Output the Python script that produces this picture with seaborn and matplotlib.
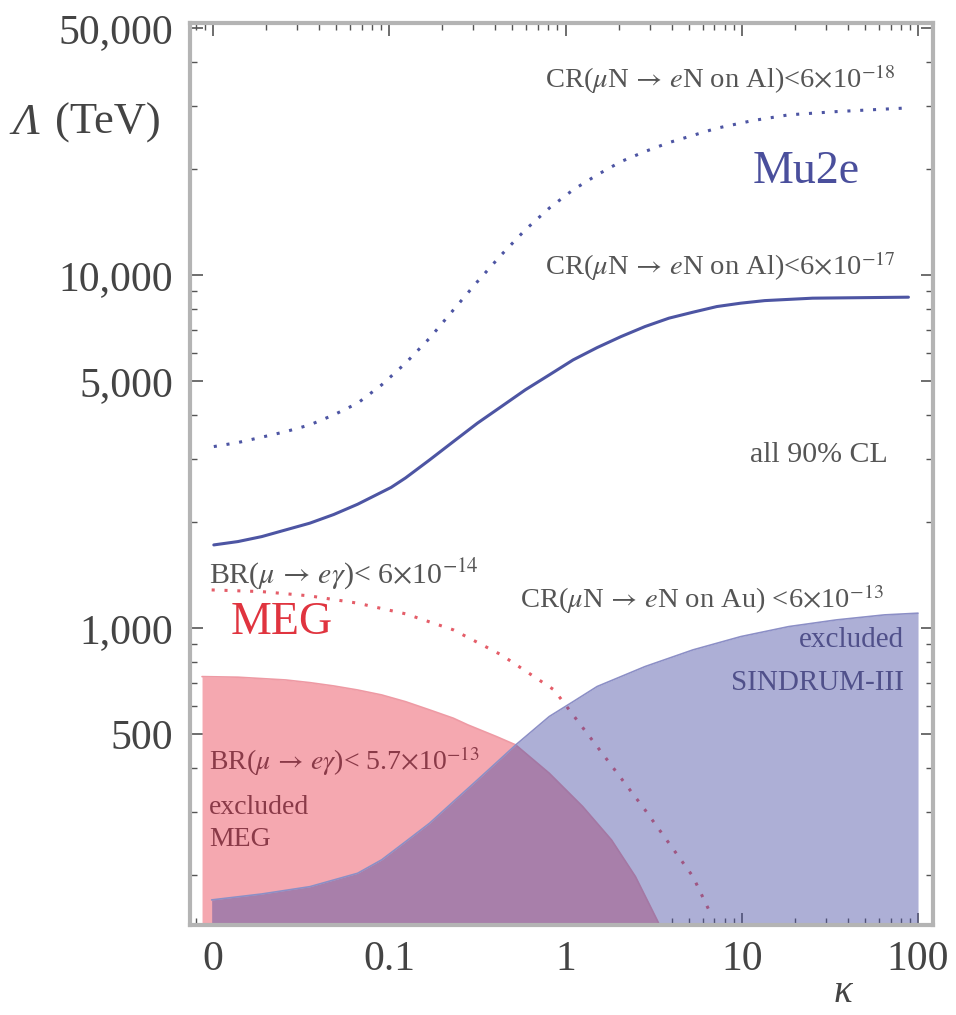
import numpy as np
import matplotlib
matplotlib.use("Agg")
import matplotlib.pyplot as plt
import seaborn as sns
from matplotlib.ticker import FixedLocator, FixedFormatter, NullFormatter

# ---------------- data ----------------
# Mu2e, CR(mu N -> e N on Al) < 6e-17 (solid)
kappa_mu2e_17 = [0.0101, 0.01384, 0.0189, 0.0354, 0.04839, 0.0661, 0.1024, 0.1237,
                 0.1693, 0.2312, 0.3164, 0.4322, 0.5907, 0.8083, 1.104, 1.511,
                 2.065, 2.825, 3.862, 5.283, 7.218, 9.876, 13.50, 25.23, 88.2]
lam_mu2e_17 = [1718, 1756, 1814, 1980, 2095, 2240, 2500, 2660,
               2991, 3372, 3802, 4236, 4723, 5207, 5743, 6223,
               6687, 7139, 7540, 7839, 8133, 8315, 8455, 8590, 8646]

# Mu2e, CR(mu N -> e N on Al) < 6e-18 (dotted)
kappa_mu2e_18 = [0.0101, 0.01384, 0.0189, 0.02588, 0.0354, 0.04839, 0.0661, 0.09052,
                 0.1237, 0.1693, 0.2312, 0.3164, 0.4322, 0.5907, 0.8083, 1.104,
                 1.511, 2.065, 2.825, 3.862, 7.218, 11.54, 18.47, 34.49, 82.8]
lam_mu2e_18 = [3263, 3350, 3469, 3598, 3759, 4012, 4330, 4880,
               5622, 6617, 7960, 9572, 11396, 13413, 15453, 17415,
               19200, 20940, 22360, 23700, 26030, 27360, 28400, 29010, 29670]

# MEG upgrade, BR(mu -> e gamma) < 6e-14 (dotted red)
kappa_meg_14 = [0.00982, 0.0189, 0.0354, 0.0661, 0.1237, 0.2312, 0.4322, 0.8606,
                1.511, 2.825, 5.283, 6.782]
lam_meg_14 = [1281, 1267, 1232, 1175, 1096, 987, 838.6, 667.3,
              461.1, 305.1, 197.5, 152.1]

# excluded by MEG, BR(mu -> e gamma) < 5.7e-13 (pink region)
kappa_meg_13 = [0.00866, 0.01384, 0.02588, 0.0354, 0.04839, 0.0661, 0.09052, 0.1237,
                0.1693, 0.2312, 0.2791, 0.4061, 0.5218, 0.8083, 1.252, 1.824,
                2.492, 3.305, 3.5]
lam_meg_13 = [727.8, 725, 712, 699.8, 684.8, 667, 645.8, 618,
              585.8, 554.7, 531.2, 492.1, 466.1, 387.6, 311.7, 250.7,
              197.5, 148.9, 140]

# excluded by SINDRUM-II, CR(mu N -> e N on Au) < 6e-13 (blue region)
kappa_sindrum = [0.00982, 0.0189, 0.0354, 0.0661, 0.09052, 0.1237, 0.1693, 0.2312,
                 0.3164, 0.4322, 0.5218, 0.8083, 1.104, 1.511, 2.825, 5.283,
                 9.876, 18.47, 34.49, 64.48, 100]
lam_sindrum = [169.6, 176.3, 184.9, 201.8, 220.3, 248, 279.7, 322.1,
               371, 427.6, 466.1, 560.9, 618, 682.2, 777.0, 866.3,
               944.9, 1008.5, 1053.6, 1088.5, 1100.6]

x_tick_values = [0.01, 0.1, 1, 10, 100]
x_tick_labels = ["0", "0.1", "1", "10", "100"]
y_tick_values = [500, 1000, 5000, 10000, 50000]
y_tick_labels = ["500", "1,000", "5,000", "10,000", "50,000"]

# ---------------- style ----------------
sns.set_style("ticks")
plt.rcParams["font.family"] = ["Liberation Serif", "DejaVu Serif"]
plt.rcParams["mathtext.fontset"] = "stix"

W, H = 956, 1015
fig = plt.figure(figsize=(W / 100, H / 100), dpi=100)
L, R, T, B = 190, 933, 23, 925
ax = fig.add_axes([L / W, 1 - B / H, (R - L) / W, (B - T) / H])
ax.set_xscale("log")
ax.set_yscale("log")
ax.set_xlim(0.0074, 121.6)
ax.set_ylim(144, 51700)

blue_line = "#4d55a3"
red_line = "#e0404e"
pink_fill = "#f5a8b0"
blue_fill = "#4b4fa4"
text_grey = "#555555"

ybase = 100
# pink region (MEG excluded)
ax.fill_between(kappa_meg_13, ybase, lam_meg_13, color=pink_fill, lw=0, zorder=1)
ax.plot(kappa_meg_13, lam_meg_13, color="#ee9aa4", lw=1.2, zorder=1.1)
# dotted MEG upgrade line (below the blue region)
sns.lineplot(x=kappa_meg_14, y=lam_meg_14, ax=ax, sort=False, color=red_line,
             lw=2.2, linestyle=(0, (1, 3.2)), alpha=0.85, zorder=1.5)
# blue region (SINDRUM-II excluded)
ax.fill_between(kappa_sindrum, ybase, lam_sindrum, color=blue_fill, alpha=0.45,
                lw=0, zorder=2)
ax.plot(kappa_sindrum, lam_sindrum, color="#8c8fc6", lw=1.2, zorder=2.1)
# Mu2e curves
sns.lineplot(x=kappa_mu2e_17, y=lam_mu2e_17, ax=ax, sort=False, color=blue_line,
             lw=2.2, zorder=3)
sns.lineplot(x=kappa_mu2e_18, y=lam_mu2e_18, ax=ax, sort=False, color=blue_line,
             lw=2.2, linestyle=(0, (1, 3.2)), zorder=3)

# ---------------- axes styling ----------------
for s in ax.spines.values():
    s.set_color("#b4b4b4")
    s.set_linewidth(3)
ax.xaxis.set_major_locator(FixedLocator(x_tick_values))
ax.xaxis.set_major_formatter(FixedFormatter(x_tick_labels))
ax.xaxis.set_minor_formatter(NullFormatter())
ax.yaxis.set_major_locator(FixedLocator(y_tick_values))
ax.yaxis.set_major_formatter(FixedFormatter(y_tick_labels))
ax.yaxis.set_minor_formatter(NullFormatter())
ax.tick_params(which="both", direction="in", top=True, right=True, color="#555555",
               labelcolor="#444444")
ax.tick_params(which="major", length=9, width=1.2, labelsize=30)
ax.tick_params(which="minor", length=5, width=1.0)
ax.tick_params(axis="y", which="major", pad=12)
ax.tick_params(axis="x", which="major", pad=11)
ax.set_xlabel("")
ax.set_ylabel("")

def tx(xp, yp, s, **kw):
    ax.text((xp - L) / (R - L), (B - yp) / (B - T), s, transform=ax.transAxes,
            zorder=5, **kw)

fs = 20.5
tx(545, 88, r"CR($\mu$N$\,\rightarrow\,$$e$N on Al)<6$\times$10$^{-18}$",
   fontsize=fs, color=text_grey, va="baseline", ha="left")
tx(806, 172, "Mu2e", fontsize=33, color="#4a4f9c", va="center", ha="center")
tx(545, 275, r"CR($\mu$N$\,\rightarrow\,$$e$N on Al)<6$\times$10$^{-17}$",
   fontsize=fs, color=text_grey, va="baseline", ha="left")
tx(750, 462, "all 90% CL", fontsize=21.5, color=text_grey, va="baseline", ha="left")
tx(209, 583, r"BR($\mu$$\,\rightarrow\,$$e\gamma$)< 6$\times$10$^{-14}$",
   fontsize=21.5, color=text_grey, va="baseline", ha="left")
tx(231, 623, "MEG", fontsize=33, color="#e0343f", va="center", ha="left")
tx(520, 608, r"CR($\mu$N$\,\rightarrow\,$$e$N on Au) <6$\times$10$^{-13}$",
   fontsize=fs, color=text_grey, va="baseline", ha="left")
tx(904, 640, "excluded", fontsize=21, color="#50508a", va="center", ha="right")
tx(904, 683, "SINDRUM-III", fontsize=21, color="#50508a", va="center", ha="right")
tx(209, 770, r"BR($\mu$$\,\rightarrow\,$$e\gamma$)< 5.7$\times$10$^{-13}$",
   fontsize=20, color="#8a3a48", va="baseline", ha="left")
tx(209, 807, "excluded", fontsize=20, color="#8a3a48", va="center", ha="left")
tx(209, 840, "MEG", fontsize=20, color="#8a3a48", va="center", ha="left")

# axis labels
fig.text(12 / W, 1 - 123 / H, "Λ", fontsize=32, style="italic", color="#444444",
         va="center", ha="left")
fig.text(55 / W, 1 - 123 / H, "(TeV)", fontsize=32, color="#444444",
         va="center", ha="left")
fig.text(843 / W, 1 - 993 / H, "κ", fontsize=28, style="italic", color="#444444",
         va="center", ha="center")

fig.savefig("out.png", dpi=100)
